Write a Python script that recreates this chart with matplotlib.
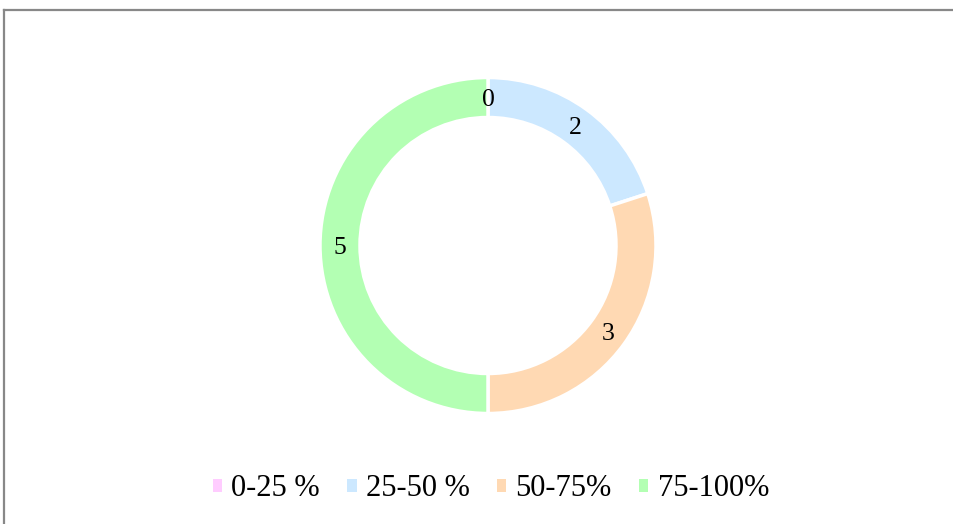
import matplotlib
matplotlib.use("Agg")
import matplotlib.pyplot as plt
from matplotlib.patches import Patch
from matplotlib.lines import Line2D
import numpy as np

categories = ["0-25 %", "25-50 %", "50-75%", "75-100%"]
values = [0, 2, 3, 5]
colors = ["#FFCCFF", "#CCE8FF", "#FFD9B3", "#B3FFB3"]

W, H = 954, 524
fig = plt.figure(figsize=(W / 100, H / 100), dpi=100)
fig.patch.set_facecolor("white")
plt.rcParams["font.family"] = ["Liberation Serif", "DejaVu Serif"]

ax = fig.add_axes([0, 0, 1, 1])
ax.set_xlim(0, W)
ax.set_ylim(0, H)
ax.set_aspect("equal")
ax.axis("off")

cx, cy = 488, H - 245.5
R, width = 168, 40
wedges, _ = ax.pie(values, radius=R, center=(cx, cy), startangle=90,
                   counterclock=False, colors=colors,
                   wedgeprops=dict(width=width, edgecolor="white", linewidth=2.5))
ax.set_xlim(0, W)
ax.set_ylim(0, H)

rl = R - width / 2
for w, v in zip(wedges, values):
    ang = np.deg2rad((w.theta1 + w.theta2) / 2)
    ax.text(cx + rl * np.cos(ang), cy + rl * np.sin(ang) - 2, str(v),
            ha="center", va="center", fontsize=18.5, color="black")

# frame
fig.add_artist(Line2D([4.5 / W, 1], [1 - 9.5 / H, 1 - 9.5 / H], color="#888888",
                      linewidth=1.6, transform=fig.transFigure))
fig.add_artist(Line2D([4.5 / W, 4.5 / W], [1 - 9.5 / H, 0], color="#888888",
                      linewidth=1.6, transform=fig.transFigure))

handles = [Patch(facecolor=c, edgecolor="none") for c in colors]
leg = fig.legend(handles, categories, loc="center", bbox_to_anchor=(491 / W, 1 - 489 / H),
                 ncol=4, frameon=False, fontsize=22, handlelength=0.3, handleheight=0.3,
                 handletextpad=0.3, columnspacing=0.9, borderpad=0, borderaxespad=0)

fig.savefig("out.png", dpi=100)
